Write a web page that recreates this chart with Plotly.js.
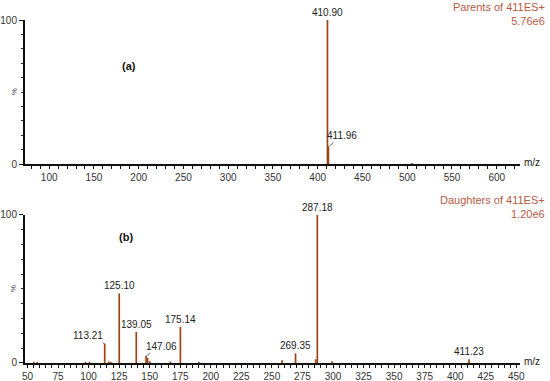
<!DOCTYPE html>
<html>
<head>
<meta charset="utf-8">
<script src="https://cdn.plot.ly/plotly-3.0.1.min.js"></script>
<style>html,body{margin:0;padding:0;background:#fff;}#chart{width:550px;height:381px;}</style>
</head>
<body>
<div id="chart"></div>
<script>
// ---- Data ----
const parentMz = [410.90, 411.96, 505.2];
const parentInt = [100, 12, 0.8];
const parentLabelMz = [410.90, 411.96];
const parentLabelText = ["410.90", "411.96"];

const daughterMz = [55.2, 58.1, 97.5, 100.8, 113.21, 116.5, 118.2, 125.10, 139.05, 147.06, 148.3, 150.1, 167.0, 175.14, 190.2, 258.3, 269.35, 285.9, 287.18, 299.2, 411.23];
const daughterInt = [0.8, 0.6, 0.7, 0.8, 13, 1.0, 0.8, 47, 21, 4.7, 3.5, 1.2, 1.0, 24.5, 0.8, 1.8, 6.5, 2.5, 100, 1.2, 2.5];
const daughterLabelMz = [113.21, 125.10, 139.05, 147.06, 175.14, 269.35, 287.18, 411.23];
const daughterLabelText = ["113.21", "125.10", "139.05", "147.06", "175.14", "269.35", "287.18", "411.23"];

const topTitle = ["Parents of 411ES+", "5.76e6"];
const botTitle = ["Daughters of 411ES+", "1.20e6"];

// ---- helpers ----
function sticks(mz, inten) {
  const xs = [], ys = [];
  mz.forEach((m, i) => { xs.push(m, m, null); ys.push(0, inten[i], null); });
  return {xs, ys};
}
const peakColor = '#9a4418';
const txtColor = '#b85a45';
const FF = 'Liberation Sans, Arial, sans-serif';
const lblFont = {family: FF, size: 10, color: '#222'};

const t = sticks(parentMz, parentInt);
const b = sticks(daughterMz, daughterInt);

const traces = [
  {x: t.xs, y: t.ys, xaxis: 'x', yaxis: 'y', mode: 'lines', line: {color: peakColor, width: 1.7}, hoverinfo: 'skip', showlegend: false},
  {x: b.xs, y: b.ys, xaxis: 'x2', yaxis: 'y2', mode: 'lines', line: {color: peakColor, width: 1.7}, hoverinfo: 'skip', showlegend: false}
];

// label offsets for leader-line labels (pixels)
const leader = {"411.96": [14, -11], "113.21": [-17, -8], "147.06": [15, -10]};

function lookup(mzArr, intArr, m) { return intArr[mzArr.indexOf(m)]; }

const annotations = [];
function addLabels(lblMz, lblText, mzArr, intArr, xr, yr) {
  lblMz.forEach((m, i) => {
    const txt = lblText[i];
    const yv = lookup(mzArr, intArr, m);
    if (leader[txt]) {
      annotations.push({x: m, y: yv, xref: xr, yref: yr, text: txt, showarrow: true, arrowhead: 0, arrowwidth: 0.8, arrowcolor: '#555', ax: leader[txt][0], ay: leader[txt][1], font: lblFont});
    } else {
      annotations.push({x: m, y: yv, xref: xr, yref: yr, text: txt, showarrow: false, xanchor: 'center', yanchor: 'bottom', font: lblFont});
    }
  });
}
addLabels(parentLabelMz, parentLabelText, parentMz, parentInt, 'x', 'y');
addLabels(daughterLabelMz, daughterLabelText, daughterMz, daughterInt, 'x2', 'y2');

const titleFont = {family: FF, size: 11, color: txtColor};
const mzFont = {family: FF, size: 10, color: '#222'};
annotations.push(
  {xref: 'paper', yref: 'paper', x: 1.055, y: 1.062, xanchor: 'right', yanchor: 'top', align: 'right', text: topTitle.join('<br>'), showarrow: false, font: titleFont},
  {xref: 'paper', yref: 'paper', x: 1.055, y: 0.5, xanchor: 'right', yanchor: 'top', align: 'right', text: botTitle.join('<br>'), showarrow: false, font: titleFont},
  {xref: 'paper', yref: 'paper', x: 1.005, y: 0.585, xanchor: 'left', yanchor: 'middle', text: 'm/z', showarrow: false, font: mzFont},
  {xref: 'paper', yref: 'paper', x: 1.005, y: 0.005, xanchor: 'left', yanchor: 'middle', text: 'm/z', showarrow: false, font: mzFont},
  {xref: 'paper', yref: 'y', x: 0.21, y: 68, xanchor: 'center', text: '<b>(a)</b>', showarrow: false, font: {family: FF, size: 11, color: '#111'}},
  {xref: 'paper', yref: 'y2', x: 0.204, y: 85, xanchor: 'center', text: '<b>(b)</b>', showarrow: false, font: {family: FF, size: 11, color: '#111'}},
  {xref: 'paper', yref: 'y', x: -0.022, y: 50, xanchor: 'center', text: '%', textangle: -90, showarrow: false, font: {family: FF, size: 8, color: '#444'}},
  {xref: 'paper', yref: 'y2', x: -0.022, y: 50, xanchor: 'center', text: '%', textangle: -90, showarrow: false, font: {family: FF, size: 8, color: '#444'}}
);

const tickFont = {family: FF, size: 10, color: '#333'};
const xCommon = {showgrid: false, zeroline: false, showline: true, linecolor: '#111', linewidth: 1.5, ticks: 'outside', ticklen: 3, tickcolor: '#111', tickwidth: 1, tickfont: tickFont};
const yCommon = {showgrid: false, zeroline: false, showline: true, linecolor: '#111', linewidth: 2, ticks: 'outside', ticklen: 4, tickcolor: '#111', tickwidth: 1, tickfont: tickFont, range: [0, 100], tickvals: [0, 100], minor: {dtick: 10, tick0: 0, ticks: 'outside', ticklen: 2, tickcolor: '#333', tickwidth: 1}};

const layout = {
  width: 550, height: 381,
  margin: {l: 25, r: 30, t: 20, b: 18},
  paper_bgcolor: '#fff', plot_bgcolor: '#fff',
  showlegend: false,
  xaxis: Object.assign({}, xCommon, {anchor: 'y', range: [73, 626], tick0: 100, dtick: 50, minor: {dtick: 10, tick0: 100, ticks: 'outside', ticklen: 3, tickcolor: '#111', tickwidth: 1}}),
  yaxis: Object.assign({}, yCommon, {anchor: 'x', domain: [0.58, 1.0]}),
  xaxis2: Object.assign({}, xCommon, {anchor: 'y2', range: [48, 453], tick0: 50, dtick: 25, ticklen: 3, minor: {dtick: 5, tick0: 50, ticks: 'outside', ticklen: 3, tickcolor: '#111', tickwidth: 1}}),
  yaxis2: Object.assign({}, yCommon, {anchor: 'x2', domain: [0.0, 0.4315]}),
  annotations: annotations
};

Plotly.newPlot('chart', traces, layout, {staticPlot: true, displayModeBar: false});
</script>
</body>
</html>
